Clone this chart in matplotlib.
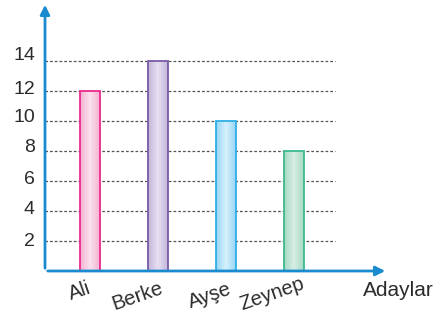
import matplotlib.pyplot as plt
import numpy as np
from matplotlib.colors import LinearSegmentedColormap

plt.rcParams['font.family'] = ['Liberation Sans', 'DejaVu Sans']

adaylar = ['Ali', 'Berke', 'Ayşe', 'Zeynep']
oylar = [12, 14, 10, 8]
y_ticks = [2, 4, 6, 8, 10, 12, 14]

edge_colors = ['#ec2a90', '#7a5ba8', '#2fb0e6', '#3dba8c']
side_colors = ['#f3b3d1', '#c3b5da', '#98d6f4', '#a6dac3']
mid_colors = ['#fbe1ee', '#e6e0f1', '#d6f1fd', '#d8efe4']
axis_blue = '#1b8bcf'

fig = plt.figure(figsize=(4.38, 3.22), dpi=100)
W, H = 438, 322
# axes origin at pixel (45, 271), 68 px per bar slot, 15 px per vote
x0_px, base_px = 45, 271
ax = fig.add_axes([x0_px / W, (H - base_px) / H, (430 - x0_px) / W, (base_px - 2) / H])
px_x = 68.0
px_y = 15.0
first_bar_px = 90
xmin = (x0_px - first_bar_px) / px_x
xmax = xmin + (430 - x0_px) / px_x
ax.set_xlim(xmin, xmax)
ax.set_ylim(0, (base_px - 2) / px_y)
ax.axis('off')

x = np.arange(len(adaylar))
width = 20 / px_x

# dashed guide lines, numbers nudged up a little on the upper rows
grid_left = (40 - first_bar_px) / px_x
grid_right = (335 - first_bar_px) / px_x
tick_lift = [0, 1, 1, 3, 3, 2, 5]
for t, lift in zip(y_ticks, tick_lift):
    ax.plot([grid_left, grid_right], [t, t], color='#555555', lw=0.9,
            ls=(0, (2.2, 1.6)), zorder=1)
    ax.text((35 - first_bar_px) / px_x, t + lift / px_y, str(t), ha='right',
            va='center', fontsize=14, color='#2b2b2b')
ax.plot([(42 - first_bar_px) / px_x, xmin], [0, 0], color='#333333', lw=1, zorder=1)

# bars with a soft horizontal gradient
for i, v in enumerate(oylar):
    cmap = LinearSegmentedColormap.from_list(
        'g', [side_colors[i], mid_colors[i], side_colors[i]])
    grad = np.linspace(0, 1, 64).reshape(1, -1)
    ax.imshow(grad, cmap=cmap, aspect='auto', zorder=2,
              extent=(x[i] - width / 2, x[i] + width / 2, 0, v))
    ax.bar(x[i], v, width=width, facecolor='none', edgecolor=edge_colors[i],
           linewidth=1.3, zorder=3)
ax.set_xlim(xmin, xmax)
ax.set_ylim(0, (base_px - 2) / px_y)

# axes with arrow heads
ax.annotate('', xy=(xmin, (base_px - 2) / px_y), xytext=(xmin, 0),
            arrowprops=dict(arrowstyle='-|>', color=axis_blue, lw=2,
                            mutation_scale=14), zorder=4)
ax.annotate('', xy=((388 - first_bar_px) / px_x, 0), xytext=(xmin, 0),
            arrowprops=dict(arrowstyle='-|>', color=axis_blue, lw=2,
                            mutation_scale=14), zorder=4)

# rotated candidate names under the bars
label_dx = [-10, -20, -16, -22]
label_dy = [20, 25, 25, 23]
for i, name in enumerate(adaylar):
    ax.text(x[i] + label_dx[i] / px_x, -label_dy[i] / px_y, name,
            rotation=19, ha='center', va='center', fontsize=14.5,
            color='#2b2b2b', rotation_mode='anchor', clip_on=False)

ax.text((398 - first_bar_px) / px_x, -19 / px_y, 'Adaylar', ha='center',
        va='center', fontsize=15, color='#2b2b2b', clip_on=False)

fig.savefig('out.png', dpi=100)
